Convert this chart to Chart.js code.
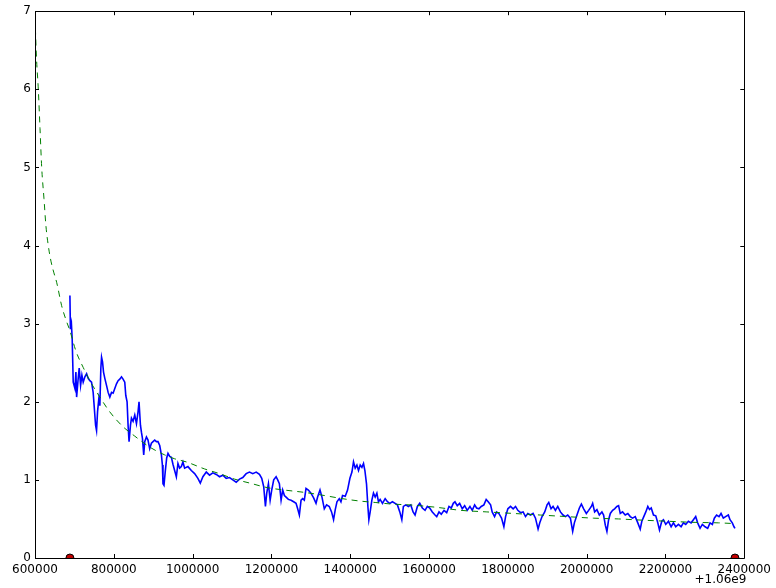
<!DOCTYPE html>
<html>
<head>
<meta charset="utf-8">
<script src="https://cdn.jsdelivr.net/npm/chart.js@4/dist/chart.umd.min.js"></script>
<style>
  body { margin: 0; background: #fff; }
  canvas { display: block; }
</style>
</head>
<body>
<canvas id="chart" width="776" height="588"></canvas>
<script>
// measured series (x shown relative to the +1.06e9 offset)
const measX = [
  688600, 689900, 692400, 694400, 697000, 701300, 703800, 705600, 709600, 712200,
  715700, 719000, 722300, 726600, 730900, 734900, 739200, 743500, 747600, 750100,
  753700, 756200, 758700, 762000, 764600, 767100, 768900, 771400, 773900, 777200,
  781500, 785600, 789900, 794200, 798200, 802500, 806800, 810900, 815200, 819500,
  823500, 827800, 830400, 833700, 836200, 838700, 842300, 844800, 848900, 853200,
  857500, 861500, 864000, 867600, 870100, 872700, 875900, 878500, 882800, 886800,
  891100, 895400, 899500, 903800, 908100, 912100, 916500, 920800, 923300, 924800,
  927300, 930400, 934200, 937500, 941800, 946100, 950100, 954400, 958700, 962800,
  967100, 971400, 975400, 979700, 988100, 996700, 1005100, 1013400, 1019500, 1026100,
  1034700, 1043000, 1051400, 1060000, 1068300, 1076700, 1085300, 1093700, 1102000, 1110600,
  1119000, 1127300, 1135900, 1144300, 1152600, 1161300, 1169600, 1175400, 1180500, 1184800,
  1188100, 1192400, 1196700, 1200700, 1205800, 1211900, 1215900, 1220200, 1224500, 1228600,
  1232900, 1237200, 1243000, 1249900, 1256400, 1262500, 1266600, 1270900, 1275200, 1279200,
  1283500, 1287800, 1293700, 1300400, 1307100, 1313200, 1317200, 1323300, 1328300, 1334200,
  1340000, 1346800, 1352600, 1357700, 1362000, 1366300, 1372100, 1376400, 1380500, 1387300,
  1393200, 1399200, 1404300, 1408300, 1412600, 1416900, 1421000, 1425300, 1429600, 1433700,
  1437200, 1441300, 1444800, 1447300, 1450600, 1454900, 1459000, 1463300, 1467600, 1471600,
  1475900, 1481800, 1488600, 1494400, 1500500, 1507100, 1513900, 1519700, 1525800, 1530900,
  1534900, 1541000, 1547600, 1553700, 1559500, 1564500, 1570400, 1576400, 1583000, 1589900,
  1595700, 1601800, 1608300, 1615200, 1619500, 1625300, 1631100, 1638000, 1644800, 1650600,
  1656400, 1661500, 1665800, 1671600, 1677700, 1684300, 1690400, 1696900, 1703800, 1709600,
  1715700, 1720700, 1726600, 1732400, 1739200, 1745000, 1750100, 1756200, 1760200, 1766300,
  1771400, 1777200, 1784000, 1789900, 1794200, 1800000, 1806800, 1813400, 1819500, 1825300,
  1832100, 1838700, 1844800, 1850600, 1857400, 1864000, 1870100, 1876700, 1881000, 1886800,
  1893600, 1899500, 1903800, 1909600, 1914700, 1920700, 1926600, 1933400, 1940000, 1946100,
  1951900, 1958700, 1964500, 1968800, 1975400, 1981500, 1986600, 1992400, 1999200, 2005000,
  2011900, 2015200, 2020200, 2026100, 2032100, 2038700, 2043000, 2047300, 2051400, 2055700,
  2060000, 2065800, 2070900, 2076700, 2081000, 2085300, 2091100, 2097900, 2104500, 2110600,
  2116400, 2123300, 2129800, 2135900, 2140000, 2145000, 2150100, 2155200, 2159500, 2163800,
  2169600, 2175400, 2180500, 2184800, 2190600, 2194900, 2200700, 2207600, 2214400, 2220200,
  2226000, 2232900, 2239700, 2245500, 2251400, 2258200, 2265000, 2270900, 2276700, 2281700,
  2287800, 2293600, 2300500, 2307100, 2313100, 2319000, 2324000, 2329800, 2335900, 2341000,
  2346800, 2352600, 2359500, 2363800, 2369600, 2373900, 2376400
];
const measY = [
  3.36, 2.93, 3.00, 2.80, 2.25, 2.17, 2.38, 2.06, 2.30, 2.43,
  2.21, 2.34, 2.25, 2.32, 2.36, 2.30, 2.27, 2.25, 2.12, 1.95,
  1.70, 1.63, 1.87, 2.04, 1.95, 2.43, 2.57, 2.51, 2.38, 2.30,
  2.21, 2.12, 2.06, 2.12, 2.11, 2.17, 2.23, 2.27, 2.29, 2.32,
  2.29, 2.25, 2.08, 2.00, 1.70, 1.49, 1.70, 1.79, 1.75, 1.83,
  1.72, 1.87, 2.00, 1.70, 1.61, 1.53, 1.32, 1.49, 1.55, 1.51,
  1.40, 1.47, 1.49, 1.51, 1.49, 1.49, 1.44, 1.32, 1.19, 0.95,
  0.93, 1.10, 1.28, 1.34, 1.30, 1.29, 1.20, 1.12, 1.04, 1.21,
  1.15, 1.17, 1.23, 1.15, 1.17, 1.12, 1.08, 1.02, 0.96, 1.04,
  1.10, 1.06, 1.09, 1.07, 1.04, 1.06, 1.02, 1.03, 1.00, 0.97,
  1.01, 1.03, 1.08, 1.10, 1.08, 1.10, 1.07, 1.02, 0.91, 0.66,
  0.83, 0.95, 0.74, 0.87, 1.00, 1.04, 1.00, 0.95, 0.74, 0.87,
  0.80, 0.78, 0.75, 0.74, 0.72, 0.70, 0.63, 0.55, 0.74, 0.76,
  0.74, 0.89, 0.87, 0.83, 0.77, 0.70, 0.78, 0.87, 0.78, 0.63,
  0.68, 0.66, 0.59, 0.49, 0.62, 0.72, 0.76, 0.72, 0.80, 0.79,
  0.87, 1.02, 1.10, 1.23, 1.15, 1.19, 1.12, 1.19, 1.16, 1.21,
  1.12, 0.95, 0.66, 0.49, 0.59, 0.74, 0.83, 0.78, 0.83, 0.72,
  0.75, 0.70, 0.76, 0.72, 0.70, 0.72, 0.70, 0.68, 0.59, 0.49,
  0.66, 0.68, 0.66, 0.68, 0.59, 0.55, 0.66, 0.70, 0.64, 0.61,
  0.66, 0.64, 0.59, 0.55, 0.53, 0.59, 0.56, 0.61, 0.58, 0.66,
  0.64, 0.70, 0.72, 0.67, 0.70, 0.63, 0.67, 0.61, 0.66, 0.61,
  0.68, 0.64, 0.63, 0.66, 0.68, 0.75, 0.72, 0.68, 0.59, 0.53,
  0.59, 0.57, 0.51, 0.40, 0.53, 0.63, 0.66, 0.63, 0.66, 0.61,
  0.58, 0.59, 0.53, 0.57, 0.55, 0.57, 0.51, 0.37, 0.45, 0.53,
  0.59, 0.68, 0.71, 0.63, 0.66, 0.61, 0.66, 0.59, 0.55, 0.53,
  0.55, 0.51, 0.34, 0.45, 0.55, 0.64, 0.69, 0.63, 0.57, 0.61,
  0.66, 0.70, 0.59, 0.62, 0.55, 0.59, 0.55, 0.42, 0.34, 0.49,
  0.57, 0.61, 0.63, 0.66, 0.67, 0.57, 0.59, 0.55, 0.57, 0.53,
  0.51, 0.53, 0.45, 0.37, 0.47, 0.53, 0.59, 0.66, 0.62, 0.64,
  0.55, 0.54, 0.45, 0.36, 0.47, 0.49, 0.43, 0.47, 0.40, 0.45,
  0.40, 0.43, 0.40, 0.45, 0.43, 0.47, 0.45, 0.49, 0.53, 0.45,
  0.38, 0.43, 0.40, 0.38, 0.45, 0.43, 0.51, 0.55, 0.53, 0.57,
  0.51, 0.53, 0.55, 0.49, 0.45, 0.40, 0.38
];

// fitted curve (green dashed)
const fitX = [
  600000, 603800, 608400, 612700, 617000, 622800, 627800, 633700, 640500, 648000,
  654900, 667600, 678500, 688600, 703800, 722300, 739200, 764600, 789900, 823500,
  853200, 891100, 929100, 954400, 984000, 1030400, 1068300, 1106300, 1144300, 1190600,
  1232900, 1283500, 1334200, 1379700, 1422800, 1465000, 1506300, 1549300, 1616900, 1681000,
  1746800, 1815200, 1882700, 1949300, 2017700, 2081000, 2139200, 2207600, 2275200, 2334100,
  2376400
];
const fitY = [
  6.92, 6.40, 6.00, 5.50, 5.00, 4.60, 4.25, 4.00, 3.80, 3.65,
  3.53, 3.23, 3.05, 2.91, 2.65, 2.44, 2.27, 2.06, 1.87, 1.68,
  1.56, 1.42, 1.32, 1.27, 1.23, 1.14, 1.08, 1.01, 0.96, 0.90,
  0.87, 0.84, 0.80, 0.76, 0.73, 0.71, 0.69, 0.68, 0.65, 0.61,
  0.59, 0.57, 0.55, 0.53, 0.51, 0.50, 0.485, 0.47, 0.456, 0.45,
  0.44
];

// endpoints marked on the axis
const markX = [688600, 2376400];
const markY = [0, 0];

const xTicks = [600000, 800000, 1000000, 1200000, 1400000, 1600000, 1800000, 2000000, 2200000, 2400000];
const yTicks = [0, 1, 2, 3, 4, 5, 6, 7];
const offsetText = '+1.06e9';

function toPoints(xs, ys) {
    return xs.map((x, i) => ({ x: x, y: ys[i] }));
}

const FONT = { family: 'DejaVu Sans', size: 12 };

// matplotlib-like frame with inward ticks on all sides
const framePlugin = {
    id: 'frame',
    afterDraw(chart) {
        const ctx = chart.ctx;
        const a = chart.chartArea;
        const sx = chart.scales.x, sy = chart.scales.y;
        ctx.save();
        ctx.strokeStyle = '#000';
        ctx.lineWidth = 1;
        ctx.beginPath();
        ctx.rect(Math.round(a.left) + 0.5, Math.round(a.top) + 0.5,
                 Math.round(a.right - a.left), Math.round(a.bottom - a.top));
        ctx.stroke();
        ctx.beginPath();
        xTicks.forEach(v => {
            const px = Math.round(sx.getPixelForValue(v)) + 0.5;
            ctx.moveTo(px, a.bottom); ctx.lineTo(px, a.bottom - 4);
            ctx.moveTo(px, a.top); ctx.lineTo(px, a.top + 4);
        });
        yTicks.forEach(v => {
            const py = Math.round(sy.getPixelForValue(v)) + 0.5;
            ctx.moveTo(a.left, py); ctx.lineTo(a.left + 4, py);
            ctx.moveTo(a.right, py); ctx.lineTo(a.right - 4, py);
        });
        ctx.stroke();
        ctx.fillStyle = '#000';
        ctx.font = FONT.size + 'px "' + FONT.family + '"';
        ctx.textAlign = 'right';
        ctx.textBaseline = 'middle';
        ctx.fillText(offsetText, a.right + 2, a.bottom + 22);
        ctx.restore();
    }
};

new Chart(document.getElementById('chart'), {
    type: 'line',
    data: {
        datasets: [
            {
                data: toPoints(fitX, fitY),
                borderColor: '#008000',
                borderWidth: 1,
                borderDash: [6, 5],
                pointRadius: 0,
                fill: false,
                cubicInterpolationMode: 'monotone'
            },
            {
                data: toPoints(measX, measY),
                borderColor: '#0000ff',
                borderWidth: 1.6,
                pointRadius: 0,
                fill: false,
                tension: 0
            },
            {
                data: toPoints(markX, markY),
                showLine: false,
                pointRadius: 4,
                pointBackgroundColor: '#c00000',
                pointBorderColor: '#000',
                pointBorderWidth: 1,
                clip: 0
            }
        ]
    },
    options: {
        responsive: false,
        animation: false,
        devicePixelRatio: 1,
        layout: { padding: { top: 10, right: 30, left: 0, bottom: 0 } },
        plugins: { legend: { display: false }, tooltip: { enabled: false } },
        scales: {
            x: {
                type: 'linear',
                min: 600000,
                max: 2400000,
                afterFit(scale) { scale.height = 30; },
                afterBuildTicks(scale) { scale.ticks = xTicks.map(v => ({ value: v })); },
                grid: { display: false, drawTicks: false },
                border: { display: false },
                ticks: {
                    color: '#000',
                    font: FONT,
                    padding: 5,
                    maxRotation: 0,
                    autoSkip: false,
                    callback: v => String(v)
                }
            },
            y: {
                min: 0,
                max: 7,
                afterFit(scale) { scale.width = 35; },
                afterBuildTicks(scale) { scale.ticks = yTicks.map(v => ({ value: v })); },
                grid: { display: false, drawTicks: false },
                border: { display: false },
                ticks: {
                    color: '#000',
                    font: FONT,
                    padding: 4,
                    callback: v => String(v)
                }
            }
        }
    },
    plugins: [framePlugin]
});
</script>
</body>
</html>
